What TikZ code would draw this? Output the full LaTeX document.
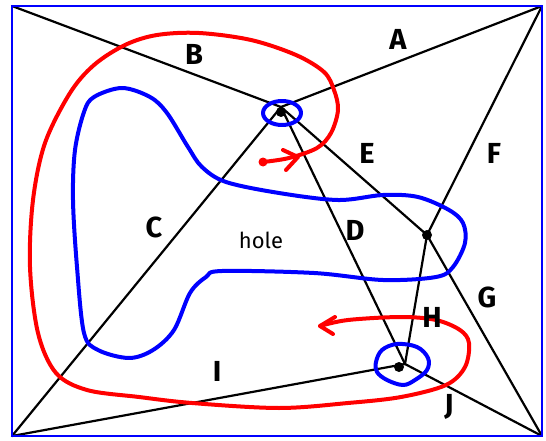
\documentclass[tikz,border=0pt]{standalone}
\usepackage{fontspec}
\setsansfont{Fira Sans}
\begin{document}
\begin{tikzpicture}[x=1pt,y=-1pt,
  edge/.style={black,line width=2.2pt,line cap=round},
  bluepath/.style={blue,line width=4pt,line cap=round,line join=round},
  redpath/.style={red,line width=4pt,line cap=round,line join=round},
  lbl/.style={font=\sffamily\bfseries\fontsize{29}{29}\selectfont,inner sep=0pt},
  dotstyle/.style={circle,fill=black,inner sep=0pt,minimum size=10pt}]
\useasboundingbox (0,0) rectangle (546,441);
% corners and junctions
\coordinate (TL) at (12,6);
\coordinate (TR) at (542,6);
\coordinate (BL) at (12,436);
\coordinate (BR) at (542,436);
\coordinate (P1) at (281,107);
\coordinate (P2) at (427,235);
\coordinate (P3) at (405,364);
% black edges
\draw[edge] (TL) -- (P1);
\draw[edge] (TR) -- (P1);
\draw[edge] (BL) -- (P1);
\draw[edge] (P1) -- (P3);
\draw[edge] (P1) -- (P2);
\draw[edge] (TR) -- (P2);
\draw[edge] (P2) -- (BR);
\draw[edge] (P2) -- (P3);
\draw[edge] (BL) -- (P3);
\draw[edge] (P3) -- (BR);
% dots
\node[dotstyle] (d1) at (281,112) {};
\node[dotstyle] (d2) at (427,235) {};
\node[dotstyle] (d3) at (399,367) {};
% blue hole outline
\draw[bluepath] plot[smooth cycle,tension=0.55] coordinates {
 (94,97) (84,112) (75,150) (73,200) (77,267) (84,333) (98,350) (129,358)
 (153,350) (174,330) (190,293) (206,277) (222,271) (314,273) (383,280)
 (436,277) (453,267) (465,243) (463,223) (449,210) (418,197) (383,195)
 (338,200) (279,193) (226,182) (202,167) (188,147) (167,113) (150,97) (122,88)};
% blue small loops
\draw[bluepath] (282,113) ellipse [x radius=19, y radius=12];
\draw[bluepath] plot[smooth cycle,tension=0.6] coordinates {
 (376,362) (382,350) (397,344) (417,347) (428,358) (427,370) (415,380)
 (403,385) (387,380) (377,372)};
% red path
\draw[redpath] plot[smooth,tension=0.55] coordinates {
 (263,162) (289,158) (317,148) (331,133) (338,110) (334,90) (324,72)
 (296,55) (251,40) (199,33) (157,35) (125,45) (94,65) (70,93) (45,143)
 (33,200) (30,267) (38,333) (56,373) (87,390) (139,397) (192,403)
 (279,408) (348,403) (401,397) (446,385) (465,367) (469,343) (460,330)
 (436,320) (401,317) (348,320) (320,326)};
\fill[red] (263,162) circle (4.5);
\draw[redpath] (283,150) -- (298,157) -- (286,170);
\draw[redpath] (335,317) -- (320,326) -- (333,334);
% labels
\node[lbl] (A) at (398,39) {A};
\node[lbl] (B) at (194,54) {B};
\node[lbl] (C) at (154,227) {C};
\node[lbl] (D) at (355,230) {D};
\node[lbl] (E) at (367,153) {E};
\node[lbl] (F) at (494,153) {F};
\node[lbl] (G) at (487,297) {G};
\node[lbl] (H) at (432,317) {H};
\node[lbl] (I) at (217,371) {I};
\node[lbl] (J) at (449,407) {J};
\node[font=\sffamily\fontsize{22}{22}\selectfont,inner sep=0pt] (hole) at (261,240) {hole};
% border
\draw[blue,line width=2.5pt] (TL) rectangle (BR);
\end{tikzpicture}
\end{document}
